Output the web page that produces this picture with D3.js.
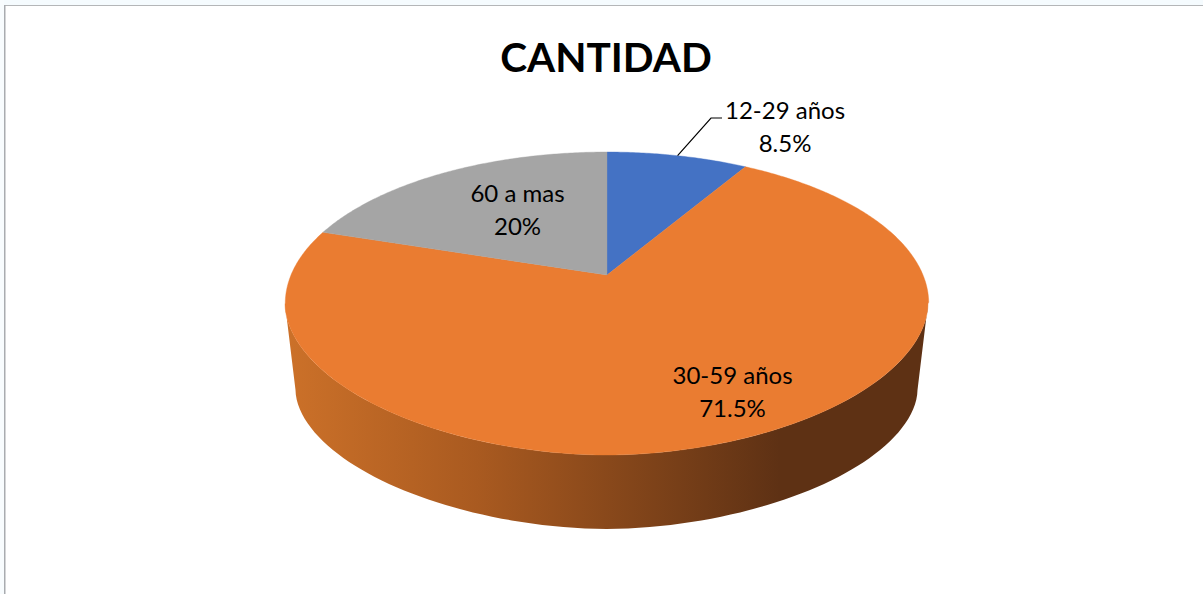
<!DOCTYPE html>
<html>
<head>
<meta charset="utf-8">
<script src="https://cdn.jsdelivr.net/npm/d3@7"></script>
<style>
html, body { margin: 0; padding: 0; background: #fff; overflow: hidden; }
text { font-family: Lato, "Open Sans", sans-serif; fill: #000; }
</style>
</head>
<body>
<script>
var categories = ["12-29 años", "30-59 años", "60 a mas"];
var values = [8.5, 71.5, 20];
var valueLabels = ["8.5%", "71.5%", "20%"];
var colors = ["#4472c4", "#ea7c31", "#a5a5a5"];
var title = "CANTIDAD";

var width = 1203, height = 594;

// pie top is drawn in perspective: the slice apex sits above the ellipse centre
var apex = {x: 607, y: 275},
    persp = 0.188;
var xs = d3.scaleLinear().domain([-1, 1]).range([apex.x - 316, apex.x + 316]);
var ys = d3.scaleLinear().domain([-1, 1]).range([apex.y + 146.1, apex.y - 146.1]);

var top_ = {cx: 606.5, cy: 303.5, rx: 321.5, ry: 151.5, n: 1.9};
// bottom edge of the wall
var base = {cx: 606.5, cy: 390, rx: 311, ry: 139, n: 1.85};

// the near side of the original outline is a bit flatter than a true ellipse
function flatten(p, e) {
    if (p[1] <= e.cy) return p;
    var dx = Math.abs(p[0] - e.cx) / e.rx,
        dy = Math.abs(p[1] - e.cy) / e.ry,
        s = Math.pow(Math.pow(dx, e.n) + Math.pow(dy, e.n), -1 / e.n);
    return [e.cx + (p[0] - e.cx) * s, e.cy + (p[1] - e.cy) * s];
}

function rim(angle) {
    var x = Math.sin(angle), y = Math.cos(angle), w = 1 + persp * y;
    return flatten([xs(x / w), ys(y / w)], top_);
}

function halfEllipse(e) {
    return d3.range(0, 181, 2).map(function (a) {
        var t = a * Math.PI / 180;
        return flatten([e.cx - e.rx * Math.cos(t), e.cy + e.ry * Math.sin(t)], e);
    });
}

var line = d3.line();

var svg = d3.select("body").append("svg")
    .attr("width", width)
    .attr("height", height)
    .style("display", "block");

// screenshot frame
svg.append("rect").attr("width", width).attr("height", 5).attr("fill", "#f5fbfe");
svg.append("rect").attr("width", 4).attr("height", height).attr("fill", "#f8fcfe");
svg.append("rect").attr("x", 4).attr("y", 5).attr("width", width - 4).attr("height", 1).attr("fill", "#b4b6b8");
svg.append("rect").attr("x", 4).attr("y", 5).attr("width", 1.5).attr("height", height - 5).attr("fill", "#a9acb0");

var grad = svg.append("defs").append("linearGradient")
    .attr("id", "wall")
    .attr("gradientUnits", "userSpaceOnUse")
    .attr("x1", 285).attr("x2", 928)
    .attr("y1", 0).attr("y2", 0);
grad.append("stop").attr("offset", "0%").attr("stop-color", "#cc7129");
grad.append("stop").attr("offset", "30%").attr("stop-color", "#a95a20");
grad.append("stop").attr("offset", "77%").attr("stop-color", "#5e3114");
grad.append("stop").attr("offset", "100%").attr("stop-color", "#5e3114");

// wall: lower half of the top rim, then back along the base
var wallPts = halfEllipse(top_).concat(halfEllipse(base).reverse());
svg.append("path")
    .attr("d", line(wallPts) + "Z")
    .attr("fill", "url(#wall)");

var arcs = d3.pie().sort(null)(values);

svg.append("g")
    .selectAll("path")
    .data(arcs)
    .enter().append("path")
    .attr("d", function (d) {
        var n = Math.ceil((d.endAngle - d.startAngle) / 0.01), pts = [[apex.x, apex.y]];
        for (var i = 0; i <= n; i++) {
            pts.push(rim(d.startAngle + (d.endAngle - d.startAngle) * i / n));
        }
        return line(pts) + "Z";
    })
    .attr("fill", function (d, i) { return colors[i]; })
    .attr("stroke", function (d, i) { return colors[i]; })
    .attr("stroke-width", 0.4);

// leader line for the small slice
var mid = (arcs[0].startAngle + arcs[0].endAngle) / 2;
svg.append("path")
    .attr("d", line([rim(mid), [711, 118], [722, 118]]))
    .attr("fill", "none")
    .attr("stroke", "#000")
    .attr("stroke-width", 1.2);

var labelPos = [[785, 119], [732.5, 384], [517.5, 202]];

var labels = svg.append("g")
    .selectAll("text")
    .data(categories)
    .enter().append("text")
    .attr("text-anchor", "middle")
    .attr("font-size", 24)
    .attr("transform", function (d, i) { return "translate(" + labelPos[i] + ")"; });
labels.append("tspan").attr("x", 0).attr("y", 0).text(function (d) { return d; });
labels.append("tspan").attr("x", 0).attr("y", 33).text(function (d, i) { return valueLabels[i]; });

svg.append("text")
    .attr("x", 606)
    .attr("y", 72)
    .attr("text-anchor", "middle")
    .attr("font-size", 40.6)
    .attr("font-weight", 700)
    .text(title);
</script>
</body>
</html>
